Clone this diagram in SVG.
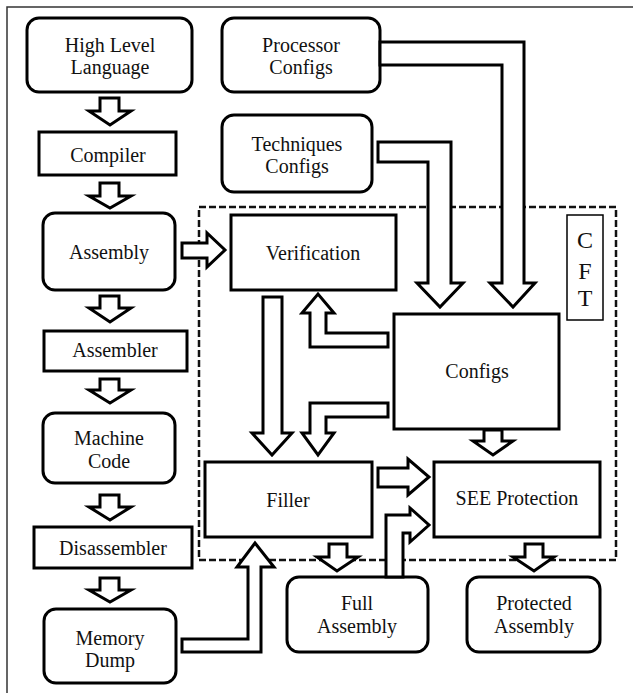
<svg xmlns="http://www.w3.org/2000/svg" width="633" height="693" viewBox="0 0 633 693">
  <style>
    .box { fill: #fff; stroke: #000; stroke-width: 3; }
    .arrow { fill: #fff; stroke: #000; stroke-width: 3; stroke-linejoin: miter; }
    .cft { fill: none; stroke: #111; stroke-width: 2.5; stroke-dasharray: 7 3; }
    .label { font-family: "Liberation Serif", "Times New Roman", serif; font-size: 20px; fill: #111; text-anchor: middle; }
    .big { font-size: 24px; }
  </style>

  <!-- page frame -->
  <path d="M7,693 V7 H633" fill="none" stroke="#333" stroke-width="1.5"/>

  <!-- CFT boundary -->
  <rect class="cft" x="199" y="207" width="417" height="353"/>

  <g id="cft-label">
    <rect x="567" y="215" width="36" height="105" fill="#fff" stroke="#000" stroke-width="1.5"/>
    <text class="label big" x="585" y="248">C</text>
    <text class="label big" x="585" y="279">F</text>
    <text class="label big" x="585" y="306">T</text>
  </g>

  <!-- nodes -->
  <g id="high-level-language">
    <rect class="box" x="27" y="18" width="165" height="74" rx="12"/>
    <text class="label" x="110" y="52">High Level</text>
    <text class="label" x="110" y="74">Language</text>
  </g>
  <g id="compiler">
    <rect class="box" x="39" y="132" width="137" height="43"/>
    <text class="label" x="108" y="162">Compiler</text>
  </g>
  <g id="assembly">
    <rect class="box" x="43" y="213" width="132" height="77" rx="12"/>
    <text class="label" x="109" y="259">Assembly</text>
  </g>
  <g id="assembler">
    <rect class="box" x="44" y="331" width="143" height="40"/>
    <text class="label" x="115" y="357">Assembler</text>
  </g>
  <g id="machine-code">
    <rect class="box" x="43" y="413" width="132" height="70" rx="12"/>
    <text class="label" x="109" y="445">Machine</text>
    <text class="label" x="109" y="468">Code</text>
  </g>
  <g id="disassembler">
    <rect class="box" x="34" y="527" width="158" height="41"/>
    <text class="label" x="113" y="555">Disassembler</text>
  </g>
  <g id="memory-dump">
    <rect class="box" x="44" y="609" width="132" height="74" rx="12"/>
    <text class="label" x="110" y="645">Memory</text>
    <text class="label" x="110" y="667">Dump</text>
  </g>
  <g id="processor-configs">
    <rect class="box" x="222" y="18" width="158" height="74" rx="12"/>
    <text class="label" x="301" y="52">Processor</text>
    <text class="label" x="301" y="74">Configs</text>
  </g>
  <g id="techniques-configs">
    <rect class="box" x="222" y="115" width="150" height="77" rx="12"/>
    <text class="label" x="297" y="151">Techniques</text>
    <text class="label" x="297" y="173">Configs</text>
  </g>
  <g id="verification">
    <rect class="box" x="231" y="215" width="165" height="75"/>
    <text class="label" x="313" y="260">Verification</text>
  </g>
  <g id="configs">
    <rect class="box" x="394" y="314" width="165" height="115"/>
    <text class="label" x="477" y="378">Configs</text>
  </g>
  <g id="filler">
    <rect class="box" x="205" y="462" width="167" height="75"/>
    <text class="label" x="288" y="507">Filler</text>
  </g>
  <g id="see-protection">
    <rect class="box" x="434" y="462" width="166" height="75"/>
    <text class="label" x="517" y="505">SEE Protection</text>
  </g>
  <g id="full-assembly">
    <rect class="box" x="287" y="577" width="141" height="75" rx="12"/>
    <text class="label" x="357" y="610">Full</text>
    <text class="label" x="357" y="633">Assembly</text>
  </g>
  <g id="protected-assembly">
    <rect class="box" x="467" y="577" width="133" height="75" rx="12"/>
    <text class="label" x="534" y="610">Protected</text>
    <text class="label" x="534" y="633">Assembly</text>
  </g>

  <!-- block-arrow connectors -->
  <g id="connectors">
    <!-- left column, top to bottom -->
    <polygon class="arrow" points="100,98 119,98 119,111 131,111 110,125 89,111 100,111"/>
    <polygon class="arrow" points="100,183 119,183 119,196 131,196 110,208 89,196 100,196"/>
    <polygon class="arrow" points="100,296 119,296 119,308 131,308 110,322 89,308 100,308"/>
    <polygon class="arrow" points="100,379 119,379 119,390 131,390 110,403 89,390 100,390"/>
    <polygon class="arrow" points="100,495 119,495 119,507 131,507 110,520 89,507 100,507"/>
    <polygon class="arrow" points="100,578 119,578 119,590 131,590 110,602 89,590 100,590"/>

    <!-- Assembly to Verification -->
    <polygon class="arrow" points="182,243 207,243 207,233 225,250 207,267 207,258 182,258"/>

    <!-- Processor Configs to Configs -->
    <polygon class="arrow" points="380,42 524,42 524,283 535,283 513,307 490,283 502,283 502,65 380,65"/>
    <!-- Techniques Configs to Configs -->
    <polygon class="arrow" points="378,142 451,142 451,283 463,283 440,307 417,283 428,283 428,162 378,162"/>

    <!-- Configs to Verification -->
    <polygon class="arrow" points="388,333 326,333 326,313 334,313 318,294 302,313 310,313 310,347 388,347"/>
    <!-- Configs to Filler -->
    <polygon class="arrow" points="388,403 310,403 310,433 302,433 318,455 334,433 326,433 326,417 388,417"/>
    <!-- Verification to Filler -->
    <polygon class="arrow" points="263,297 282,297 282,433 292,433 272,455 252,433 263,433"/>
    <!-- Configs to SEE Protection -->
    <polygon class="arrow" points="484,430 502,430 502,441 513,441 493,455 473,441 484,441"/>

    <!-- Filler to SEE Protection -->
    <polygon class="arrow" points="378,468 408,468 408,459 429,477 408,495 408,487 378,487"/>
    <!-- Full Assembly to SEE Protection -->
    <polygon class="arrow" points="386,577 386,515 410,515 410,508 429,525 410,542 410,533 403,533 403,577"/>

    <!-- Filler to Full Assembly -->
    <polygon class="arrow" points="329,544 347,544 347,557 358,557 337,571 317,557 329,557"/>
    <!-- SEE Protection to Protected Assembly -->
    <polygon class="arrow" points="525,544 543,544 543,557 554,557 534,571 513,557 525,557"/>

    <!-- Memory Dump to Filler -->
    <polygon class="arrow" points="182,639 248,639 248,567 237,567 255,543 274,567 261,567 261,652 182,652"/>
  </g>
</svg>
